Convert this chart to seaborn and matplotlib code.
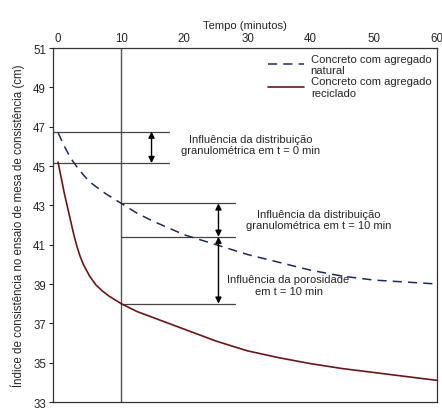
import matplotlib
matplotlib.use("Agg")
import matplotlib.pyplot as plt
import seaborn as sns
import pandas as pd

# Consistency index (cm) over time (min) for natural and recycled aggregate concrete
t_natural = [0, 0.5, 1, 1.5, 2, 3, 4, 5, 6, 7.5, 10, 12.5, 15, 17.5, 20, 25, 30,
             35, 40, 45, 50, 55, 60]
v_natural = [46.7, 46.35, 46.0, 45.7, 45.4, 44.95, 44.55, 44.2, 43.95, 43.6, 43.1,
             42.6, 42.2, 41.85, 41.5, 41.0, 40.5, 40.1, 39.7, 39.4, 39.2, 39.1, 39.0]

t_recycled = [0, 0.5, 1, 1.5, 2, 2.5, 3, 3.5, 4, 4.5, 5, 6, 7, 8, 9, 10, 12.5, 15,
              20, 25, 30, 35, 40, 45, 50, 55, 60]
v_recycled = [45.2, 44.4, 43.6, 42.9, 42.2, 41.5, 40.9, 40.4, 40.0, 39.7, 39.4,
              38.95, 38.65, 38.4, 38.2, 38.0, 37.6, 37.3, 36.7, 36.1, 35.6, 35.25,
              34.95, 34.7, 34.5, 34.3, 34.1]

series_labels = ["Concreto com agregado\nnatural", "Concreto com agregado\nreciclado"]
x_ticks = [0, 10, 20, 30, 40, 50, 60]
y_ticks = [33, 35, 37, 39, 41, 43, 45, 47, 49, 51]

# Reference levels used by the annotation brackets
level_nat_0 = 46.75
level_rec_0 = 45.15
level_nat_10 = 43.1
level_mid_10 = 41.4
level_rec_10 = 38.0

sns.set_style("white")
plt.rcParams["font.family"] = ["Liberation Sans", "DejaVu Sans"]

fig = plt.figure(figsize=(4.42, 4.10), dpi=100)
ax = fig.add_axes([53 / 442, 1 - 403 / 410, (437 - 53) / 442, (403 - 49) / 410])

df_nat = pd.DataFrame({"t": t_natural, "v": v_natural})
df_rec = pd.DataFrame({"t": t_recycled, "v": v_recycled})

sns.lineplot(data=df_nat, x="t", y="v", ax=ax, color="#1c2a5e", lw=1.1,
             linestyle=(0, (6, 4)), label=series_labels[0])
sns.lineplot(data=df_rec, x="t", y="v", ax=ax, color="#6a1518", lw=1.2,
             label=series_labels[1])

ax.set_xlim(-0.8, 60)
ax.set_ylim(33, 51)

# Vertical reference at t = 10 min
ax.axvline(10, color="#555555", lw=1.0, zorder=1)

line_kw = dict(color="#444444", lw=0.9, zorder=1)
# t = 0 brackets
ax.plot([-0.8, 17.5], [level_nat_0, level_nat_0], **line_kw)
ax.plot([-0.8, 17.5], [level_rec_0, level_rec_0], **line_kw)
# t = 10 brackets
for lv in (level_nat_10, level_mid_10, level_rec_10):
    ax.plot([10, 28], [lv, lv], **line_kw)

arrow_kw = dict(arrowstyle="<|-|>", color="black", lw=1.0,
                mutation_scale=9, shrinkA=0, shrinkB=0)
ax.annotate("", xy=(14.8, level_nat_0), xytext=(14.8, level_rec_0),
            arrowprops=arrow_kw)
ax.annotate("", xy=(25.4, level_nat_10), xytext=(25.4, level_mid_10),
            arrowprops=arrow_kw)
ax.annotate("", xy=(25.4, level_mid_10), xytext=(25.4, level_rec_10),
            arrowprops=arrow_kw)

txt_kw = dict(ha="center", va="center", fontsize=8, linespacing=1.15)
ax.text(30.5, 46.1, "Influência da distribuição\ngranulométrica em t = 0 min", **txt_kw)
ax.text(41.3, 42.3, "Influência da distribuição\ngranulométrica em t = 10 min", **txt_kw)
ax.text(36.5, 38.95, "Influência da porosidade\nem t = 10 min", **txt_kw)

# Axes: time on top, consistency on the left
ax.xaxis.tick_top()
ax.xaxis.set_label_position("top")
ax.set_xticks(x_ticks)
ax.set_yticks(y_ticks)
ax.tick_params(axis="x", length=0, pad=3, labelsize=8.3)
ax.tick_params(axis="y", length=3, width=0.8, left=True, pad=2, labelsize=8.3)
ax.set_xlabel("Tempo (minutos)", fontsize=8.1, labelpad=3)
ax.set_ylabel("Índice de consistência no ensaio de mesa de consistência (cm)",
              fontsize=8.3, labelpad=6)

for sp in ax.spines.values():
    sp.set_visible(True)
    sp.set_color("#333333")
    sp.set_linewidth(0.9)

leg = ax.legend(loc="upper right", frameon=False, fontsize=8.1,
                handlelength=3.2, handletextpad=0.6, borderaxespad=0.1,
                labelspacing=0.1)

fig.savefig("out.png", dpi=100)
